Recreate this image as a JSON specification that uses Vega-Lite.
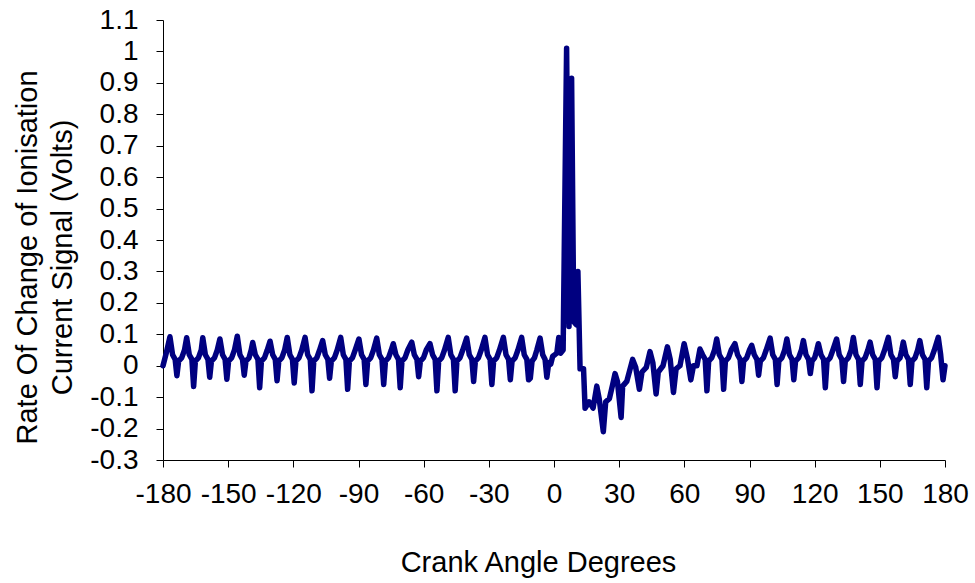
{
  "$schema": "https://vega.github.io/schema/vega-lite/v6.json",
  "width": 782,
  "height": 440,
  "autosize": {"type": "none"},
  "padding": {"left": 163, "top": 20, "right": 30, "bottom": 123},
  "background": "white",
  "config": {"view": {"stroke": null}, "font": "Liberation Sans"},
  "data": {"values": [
    {"angle": -180, "value": 0.0}, {"angle": -178.5, "value": 0.04},
    {"angle": -176.8, "value": 0.092}, {"angle": -175.6, "value": 0.035}, {"angle": -174.4, "value": 0.02}, {"angle": -173.6, "value": -0.032}, {"angle": -172.8, "value": 0.015}, {"angle": -171.4, "value": 0.025}, {"angle": -170.1, "value": 0.05},
    {"angle": -169.1, "value": 0.089}, {"angle": -167.9, "value": 0.035}, {"angle": -166.7, "value": 0.02}, {"angle": -165.9, "value": -0.066}, {"angle": -165.1, "value": 0.015}, {"angle": -163.7, "value": 0.025}, {"angle": -162.4, "value": 0.05},
    {"angle": -161.7, "value": 0.089}, {"angle": -160.5, "value": 0.035}, {"angle": -159.3, "value": 0.02}, {"angle": -158.5, "value": -0.037}, {"angle": -157.7, "value": 0.015}, {"angle": -156.3, "value": 0.025}, {"angle": -155.0, "value": 0.05},
    {"angle": -153.8, "value": 0.085}, {"angle": -152.6, "value": 0.035}, {"angle": -151.4, "value": 0.02}, {"angle": -150.6, "value": -0.043}, {"angle": -149.8, "value": 0.015}, {"angle": -148.4, "value": 0.025}, {"angle": -147.1, "value": 0.05},
    {"angle": -145.8, "value": 0.094}, {"angle": -144.6, "value": 0.035}, {"angle": -143.4, "value": 0.02}, {"angle": -142.6, "value": -0.03}, {"angle": -141.8, "value": 0.015}, {"angle": -140.4, "value": 0.025}, {"angle": -139.4, "value": 0.05},
    {"angle": -138.7, "value": 0.074}, {"angle": -137.5, "value": 0.035}, {"angle": -136.3, "value": 0.02}, {"angle": -135.5, "value": -0.07}, {"angle": -134.7, "value": 0.015}, {"angle": -133.3, "value": 0.025}, {"angle": -132.0, "value": 0.05},
    {"angle": -130.7, "value": 0.078}, {"angle": -129.5, "value": 0.035}, {"angle": -128.3, "value": 0.02}, {"angle": -127.5, "value": -0.048}, {"angle": -126.7, "value": 0.015}, {"angle": -125.3, "value": 0.025}, {"angle": -124.0, "value": 0.05},
    {"angle": -122.8, "value": 0.09}, {"angle": -121.6, "value": 0.035}, {"angle": -120.4, "value": 0.02}, {"angle": -119.6, "value": -0.055}, {"angle": -118.8, "value": 0.015}, {"angle": -117.4, "value": 0.025}, {"angle": -116.1, "value": 0.05},
    {"angle": -114.6, "value": 0.09}, {"angle": -113.4, "value": 0.035}, {"angle": -112.2, "value": 0.02}, {"angle": -111.4, "value": -0.08}, {"angle": -110.6, "value": 0.015}, {"angle": -109.2, "value": 0.025}, {"angle": -107.9, "value": 0.05},
    {"angle": -106.5, "value": 0.08}, {"angle": -105.3, "value": 0.035}, {"angle": -104.1, "value": 0.02}, {"angle": -103.3, "value": -0.04}, {"angle": -102.5, "value": 0.015}, {"angle": -101.1, "value": 0.025}, {"angle": -99.8, "value": 0.05},
    {"angle": -98.2, "value": 0.09}, {"angle": -97.0, "value": 0.035}, {"angle": -95.8, "value": 0.02}, {"angle": -95.0, "value": -0.075}, {"angle": -94.2, "value": 0.015}, {"angle": -92.8, "value": 0.025}, {"angle": -91.5, "value": 0.05},
    {"angle": -89.8, "value": 0.085}, {"angle": -88.6, "value": 0.035}, {"angle": -87.4, "value": 0.02}, {"angle": -86.6, "value": -0.06}, {"angle": -85.8, "value": 0.015}, {"angle": -84.4, "value": 0.025}, {"angle": -83.1, "value": 0.05},
    {"angle": -81.6, "value": 0.088}, {"angle": -80.4, "value": 0.035}, {"angle": -79.2, "value": 0.02}, {"angle": -78.4, "value": -0.06}, {"angle": -77.6, "value": 0.015}, {"angle": -76.2, "value": 0.025}, {"angle": -74.9, "value": 0.05},
    {"angle": -74.0, "value": 0.07}, {"angle": -72.8, "value": 0.035}, {"angle": -71.6, "value": 0.02}, {"angle": -70.8, "value": -0.07}, {"angle": -70.0, "value": 0.015}, {"angle": -68.6, "value": 0.025}, {"angle": -67.3, "value": 0.05},
    {"angle": -65.5, "value": 0.075}, {"angle": -64.3, "value": 0.035}, {"angle": -63.1, "value": 0.02}, {"angle": -62.3, "value": -0.035}, {"angle": -61.5, "value": 0.015}, {"angle": -60.1, "value": 0.025}, {"angle": -58.8, "value": 0.05},
    {"angle": -57.1, "value": 0.07}, {"angle": -55.9, "value": 0.035}, {"angle": -54.7, "value": 0.02}, {"angle": -53.9, "value": -0.08}, {"angle": -53.1, "value": 0.015}, {"angle": -51.7, "value": 0.025}, {"angle": -50.4, "value": 0.05},
    {"angle": -48.7, "value": 0.09}, {"angle": -47.5, "value": 0.035}, {"angle": -46.3, "value": 0.02}, {"angle": -45.5, "value": -0.08}, {"angle": -44.7, "value": 0.015}, {"angle": -43.3, "value": 0.025}, {"angle": -42.0, "value": 0.05},
    {"angle": -40.2, "value": 0.088}, {"angle": -39.0, "value": 0.035}, {"angle": -37.8, "value": 0.02}, {"angle": -37.0, "value": -0.05}, {"angle": -36.2, "value": 0.015}, {"angle": -34.8, "value": 0.025}, {"angle": -33.5, "value": 0.05},
    {"angle": -31.8, "value": 0.09}, {"angle": -30.6, "value": 0.035}, {"angle": -29.4, "value": 0.02}, {"angle": -28.6, "value": -0.06}, {"angle": -27.8, "value": 0.015}, {"angle": -26.4, "value": 0.025}, {"angle": -25.1, "value": 0.05},
    {"angle": -23.3, "value": 0.09}, {"angle": -22.1, "value": 0.035}, {"angle": -20.9, "value": 0.02}, {"angle": -20.1, "value": -0.045}, {"angle": -19.3, "value": 0.015}, {"angle": -17.9, "value": 0.025}, {"angle": -16.6, "value": 0.05},
    {"angle": -14.9, "value": 0.09}, {"angle": -13.7, "value": 0.035}, {"angle": -12.5, "value": 0.02}, {"angle": -11.7, "value": -0.045}, {"angle": -10.9, "value": -0.04}, {"angle": -10.1, "value": 0.015}, {"angle": -9.0, "value": 0.025}, {"angle": -7.9, "value": 0.05},
    {"angle": -6.4, "value": 0.088}, {"angle": -5.2, "value": 0.035}, {"angle": -4.1, "value": 0.02}, {"angle": -3.3, "value": -0.037},
    {"angle": -2.4, "value": 0.01}, {"angle": -1.5, "value": 0.005}, {"angle": -0.6, "value": 0.03}, {"angle": 0.4, "value": 0.035}, {"angle": 1.3, "value": 0.04},
    {"angle": 2.2, "value": 0.09}, {"angle": 3.0, "value": 0.04}, {"angle": 4.2, "value": 0.05},
    {"angle": 5.8, "value": 1.01}, {"angle": 6.9, "value": 0.125}, {"angle": 8.1, "value": 0.915}, {"angle": 9.1, "value": 0.14},
    {"angle": 10.3, "value": 0.13}, {"angle": 11.0, "value": 0.3}, {"angle": 12.0, "value": -0.01}, {"angle": 13.6, "value": -0.01},
    {"angle": 14.3, "value": -0.135}, {"angle": 16.2, "value": -0.115}, {"angle": 18.0, "value": -0.135}, {"angle": 19.7, "value": -0.065},
    {"angle": 20.8, "value": -0.105}, {"angle": 22.7, "value": -0.21}, {"angle": 23.8, "value": -0.115}, {"angle": 25.5, "value": -0.105},
    {"angle": 27.0, "value": -0.06}, {"angle": 28.1, "value": -0.025}, {"angle": 29.2, "value": -0.05}, {"angle": 30.9, "value": -0.165},
    {"angle": 31.6, "value": -0.065}, {"angle": 33.5, "value": -0.05}, {"angle": 36.2, "value": 0.02}, {"angle": 37.6, "value": -0.005},
    {"angle": 39.3, "value": -0.075}, {"angle": 40.5, "value": -0.02}, {"angle": 42.5, "value": -0.005}, {"angle": 44.2, "value": 0.045},
    {"angle": 45.5, "value": 0.01}, {"angle": 47.0, "value": -0.09}, {"angle": 48.0, "value": -0.02}, {"angle": 50.2, "value": 0.0},
    {"angle": 52.2, "value": 0.06}, {"angle": 53.5, "value": 0.02}, {"angle": 55.0, "value": -0.085}, {"angle": 56.2, "value": -0.01},
    {"angle": 58.0, "value": 0.0}, {"angle": 59.9, "value": 0.07}, {"angle": 61.5, "value": 0.02}, {"angle": 63.0, "value": -0.045},
    {"angle": 64.2, "value": 0.0}, {"angle": 65.8, "value": 0.0},
    {"angle": 67.2, "value": 0.053}, {"angle": 68.4, "value": 0.035}, {"angle": 69.6, "value": 0.02}, {"angle": 70.4, "value": -0.08}, {"angle": 71.2, "value": 0.015}, {"angle": 72.6, "value": 0.025}, {"angle": 73.9, "value": 0.05},
    {"angle": 74.9, "value": 0.085}, {"angle": 76.1, "value": 0.035}, {"angle": 77.3, "value": 0.02}, {"angle": 78.1, "value": -0.075}, {"angle": 78.9, "value": 0.015}, {"angle": 80.3, "value": 0.025}, {"angle": 81.6, "value": 0.05},
    {"angle": 83.3, "value": 0.07}, {"angle": 84.5, "value": 0.035}, {"angle": 85.7, "value": 0.02}, {"angle": 86.5, "value": -0.05}, {"angle": 87.3, "value": 0.015}, {"angle": 88.7, "value": 0.025}, {"angle": 90.0, "value": 0.05},
    {"angle": 91.0, "value": 0.065}, {"angle": 92.2, "value": 0.035}, {"angle": 93.4, "value": 0.02}, {"angle": 94.2, "value": -0.03}, {"angle": 95.0, "value": 0.015}, {"angle": 96.4, "value": 0.025}, {"angle": 97.7, "value": 0.05},
    {"angle": 99.5, "value": 0.088}, {"angle": 100.7, "value": 0.035}, {"angle": 101.9, "value": 0.02}, {"angle": 102.7, "value": -0.06}, {"angle": 103.5, "value": 0.015}, {"angle": 104.9, "value": 0.025}, {"angle": 106.2, "value": 0.05},
    {"angle": 107.2, "value": 0.085}, {"angle": 108.4, "value": 0.035}, {"angle": 109.6, "value": 0.02}, {"angle": 110.4, "value": -0.045}, {"angle": 111.2, "value": 0.015}, {"angle": 112.6, "value": 0.025}, {"angle": 113.9, "value": 0.05},
    {"angle": 114.8, "value": 0.08}, {"angle": 116.0, "value": 0.035}, {"angle": 117.2, "value": 0.02}, {"angle": 118.0, "value": -0.025}, {"angle": 118.8, "value": 0.015}, {"angle": 120.0, "value": 0.025}, {"angle": 121.0, "value": 0.05},
    {"angle": 121.7, "value": 0.07}, {"angle": 122.9, "value": 0.035}, {"angle": 124.1, "value": 0.02}, {"angle": 124.9, "value": -0.07}, {"angle": 125.7, "value": 0.015}, {"angle": 127.1, "value": 0.025}, {"angle": 128.4, "value": 0.05},
    {"angle": 130.1, "value": 0.085}, {"angle": 131.3, "value": 0.035}, {"angle": 132.5, "value": 0.02}, {"angle": 133.3, "value": -0.05}, {"angle": 134.1, "value": 0.015}, {"angle": 135.5, "value": 0.025}, {"angle": 136.8, "value": 0.05},
    {"angle": 137.8, "value": 0.09}, {"angle": 139.0, "value": 0.035}, {"angle": 140.2, "value": 0.02}, {"angle": 141.0, "value": -0.06}, {"angle": 141.8, "value": 0.015}, {"angle": 143.2, "value": 0.025}, {"angle": 144.5, "value": 0.05},
    {"angle": 145.5, "value": 0.075}, {"angle": 146.7, "value": 0.035}, {"angle": 147.9, "value": 0.02}, {"angle": 148.7, "value": -0.07}, {"angle": 149.5, "value": 0.015}, {"angle": 150.9, "value": 0.025}, {"angle": 152.2, "value": 0.05},
    {"angle": 153.9, "value": 0.09}, {"angle": 155.1, "value": 0.035}, {"angle": 156.3, "value": 0.02}, {"angle": 157.1, "value": -0.035}, {"angle": 157.9, "value": 0.015}, {"angle": 159.3, "value": 0.025}, {"angle": 160.1, "value": 0.05},
    {"angle": 160.8, "value": 0.075}, {"angle": 162.0, "value": 0.035}, {"angle": 163.2, "value": 0.02}, {"angle": 164.0, "value": -0.06}, {"angle": 164.8, "value": 0.015}, {"angle": 166.2, "value": 0.025}, {"angle": 167.4, "value": 0.05},
    {"angle": 168.4, "value": 0.08}, {"angle": 169.6, "value": 0.035}, {"angle": 170.8, "value": 0.02}, {"angle": 171.6, "value": -0.07}, {"angle": 172.4, "value": 0.015}, {"angle": 173.8, "value": 0.025}, {"angle": 175.1, "value": 0.05},
    {"angle": 176.9, "value": 0.09}, {"angle": 178.0, "value": 0.035}, {"angle": 179.1, "value": -0.045}, {"angle": 180.0, "value": 0.0}
  ]},
  "mark": {"type": "line", "color": "#000080", "strokeWidth": 5.5, "strokeJoin": "round", "strokeCap": "round", "clip": false},
  "encoding": {
    "x": {
      "field": "angle", "type": "quantitative",
      "scale": {"domain": [-180, 180], "nice": false, "zero": false},
      "axis": {
        "values": [-180, -150, -120, -90, -60, -30, 0, 30, 60, 90, 120, 150, 180],
        "labelExpr": "replace(datum.label, '−', '-')",
        "title": "Crank Angle Degrees",
        "grid": false,
        "domainColor": "black", "domainWidth": 1,
        "tickColor": "black", "tickSize": 7, "tickWidth": 1,
        "labelFont": "Liberation Sans", "labelFontSize": 28, "labelColor": "black",
        "labelPadding": 13, "labelFlush": false, "labelOverlap": false,
        "titleFont": "Liberation Sans", "titleFontSize": 29, "titleFontWeight": "normal", "titleColor": "black",
        "titlePadding": 40,
        "titleX": 375
      }
    },
    "y": {
      "field": "value", "type": "quantitative",
      "scale": {"domain": [-0.3, 1.1], "nice": false, "zero": false},
      "axis": {
        "values": [-0.3, -0.2, -0.1, 0, 0.1, 0.2, 0.3, 0.4, 0.5, 0.6, 0.7, 0.8, 0.9, 1, 1.1],
        "format": "~g",
        "labelExpr": "replace(datum.label, '−', '-')",
        "title": ["Rate Of Change of Ionisation", "Current Signal (Volts)"],
        "grid": false,
        "domainColor": "black", "domainWidth": 1,
        "tickColor": "black", "tickSize": 7, "tickWidth": 1,
        "labelFont": "Liberation Sans", "labelFontSize": 28, "labelColor": "black",
        "labelPadding": 18, "labelFlush": false, "labelOverlap": false,
        "titleFont": "Liberation Sans", "titleFontSize": 29, "titleFontWeight": "normal", "titleColor": "black",
        "titleLineHeight": 35,
        "titlePadding": 12,
        "titleY": 237
      }
    }
  }
}
